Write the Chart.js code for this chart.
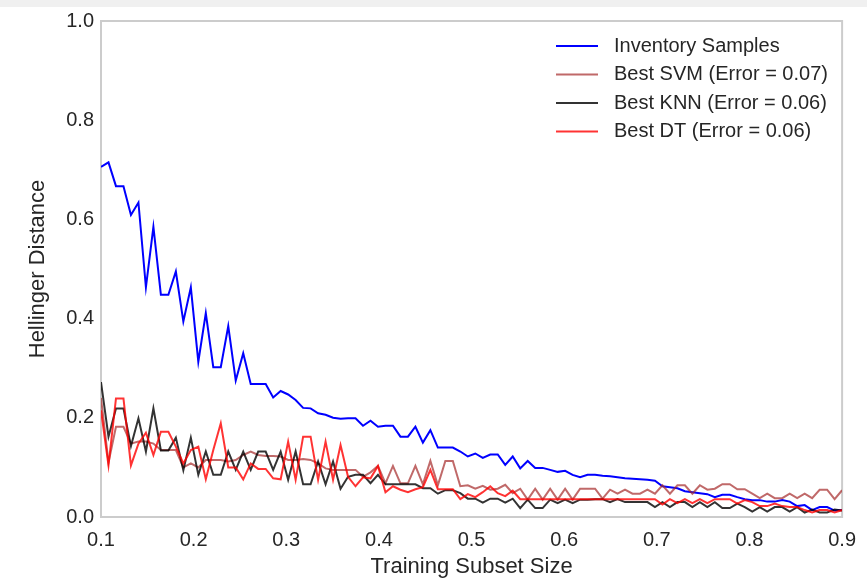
<!DOCTYPE html>
<html lang="en">
<head>
<meta charset="UTF-8">
<title>Hellinger Distance vs Training Subset Size</title>
<script src="https://cdn.jsdelivr.net/npm/chart.js"></script>
<style>
  html, body { margin: 0; padding: 0; background: #fff; }
  #wrap { position: relative; width: 867px; height: 586px; }
  #strip { position: absolute; left: 0; top: 0; width: 867px; height: 7px; background: #f0f0f0; }
</style>
</head>
<body>
<div id="wrap">
  <canvas id="curveChart" width="867" height="586"></canvas>
  <div id="strip"></div>
</div>
<script>
// 100 evenly spaced subset sizes from 0.1 to 0.9
const sizeStart = 0.1, sizeEnd = 0.9, sizeCount = 100;
const subsetSizes = Array.from({ length: sizeCount }, (_, i) => sizeStart + i * (sizeEnd - sizeStart) / (sizeCount - 1));

const xTicks = [0.1, 0.2, 0.3, 0.4, 0.5, 0.6, 0.7, 0.8, 0.9];
const yTicks = [0.0, 0.2, 0.4, 0.6, 0.8, 1.0];

const seriesLabels = ['Inventory Samples', 'Best SVM (Error = 0.07)', 'Best KNN (Error = 0.06)', 'Best DT (Error = 0.06)'];

const inventorySamples = [
  0.706,0.715,0.667,0.667,0.609,0.634,0.463,0.585,0.448,0.448,
  0.495,0.394,0.463,0.313,0.411,0.302,0.302,0.385,0.275,0.330,
  0.268,0.268,0.268,0.241,0.254,0.247,0.236,0.220,0.219,0.209,
  0.206,0.200,0.198,0.199,0.199,0.184,0.194,0.182,0.184,0.184,
  0.162,0.162,0.182,0.150,0.175,0.140,0.140,0.140,0.132,0.122,
  0.128,0.119,0.126,0.126,0.105,0.122,0.098,0.113,0.099,0.099,
  0.095,0.091,0.093,0.085,0.080,0.085,0.085,0.083,0.082,0.080,
  0.078,0.077,0.076,0.075,0.073,0.062,0.060,0.058,0.052,0.050,
  0.048,0.046,0.040,0.045,0.045,0.040,0.036,0.034,0.034,0.031,
  0.031,0.034,0.031,0.022,0.024,0.014,0.020,0.020,0.013,0.014
];
const bestSvm = [
  0.240,0.110,0.182,0.182,0.148,0.152,0.152,0.148,0.135,0.135,
  0.135,0.100,0.108,0.100,0.115,0.115,0.115,0.112,0.115,0.125,
  0.132,0.125,0.123,0.123,0.122,0.115,0.115,0.117,0.115,0.108,
  0.098,0.095,0.095,0.095,0.095,0.081,0.090,0.103,0.068,0.103,
  0.068,0.068,0.103,0.066,0.113,0.064,0.113,0.113,0.062,0.064,
  0.057,0.063,0.055,0.057,0.065,0.048,0.057,0.035,0.057,0.035,
  0.057,0.035,0.057,0.035,0.057,0.057,0.057,0.037,0.055,0.047,
  0.055,0.047,0.047,0.055,0.047,0.064,0.047,0.064,0.064,0.047,
  0.064,0.055,0.057,0.066,0.066,0.056,0.056,0.047,0.038,0.047,
  0.038,0.038,0.047,0.038,0.047,0.038,0.055,0.055,0.036,0.054
];
const bestKnn = [
  0.272,0.162,0.219,0.219,0.143,0.199,0.132,0.219,0.134,0.134,
  0.160,0.094,0.160,0.085,0.132,0.085,0.085,0.132,0.095,0.132,
  0.095,0.132,0.132,0.095,0.132,0.075,0.132,0.066,0.066,0.112,
  0.066,0.112,0.057,0.081,0.085,0.085,0.068,0.085,0.066,0.066,
  0.066,0.066,0.066,0.058,0.058,0.047,0.054,0.054,0.048,0.037,
  0.037,0.029,0.037,0.037,0.029,0.037,0.018,0.035,0.018,0.018,
  0.035,0.028,0.035,0.028,0.035,0.035,0.036,0.036,0.030,0.036,
  0.030,0.030,0.030,0.030,0.020,0.030,0.020,0.030,0.030,0.020,
  0.030,0.020,0.030,0.018,0.018,0.027,0.020,0.011,0.020,0.011,
  0.020,0.020,0.011,0.020,0.009,0.015,0.009,0.009,0.015,0.013
];
const bestDt = [
  0.215,0.104,0.239,0.239,0.104,0.148,0.170,0.125,0.172,0.172,
  0.142,0.108,0.135,0.142,0.076,0.135,0.189,0.100,0.100,0.076,
  0.108,0.097,0.097,0.078,0.076,0.152,0.075,0.162,0.162,0.075,
  0.152,0.075,0.145,0.081,0.062,0.080,0.078,0.103,0.050,0.062,
  0.055,0.050,0.056,0.060,0.095,0.056,0.056,0.056,0.036,0.046,
  0.040,0.050,0.062,0.048,0.042,0.053,0.036,0.036,0.036,0.036,
  0.036,0.036,0.036,0.036,0.036,0.036,0.036,0.036,0.036,0.036,
  0.036,0.036,0.036,0.036,0.036,0.025,0.036,0.028,0.036,0.028,
  0.036,0.028,0.036,0.036,0.036,0.027,0.034,0.030,0.022,0.022,
  0.027,0.022,0.020,0.020,0.014,0.009,0.014,0.014,0.009,0.014
];

const FONT = '"Liberation Sans", Arial, Helvetica, sans-serif';
const TEXT = '#262626';

const toPoints = vals => vals.map((v, i) => ({ x: subsetSizes[i], y: v }));

// light grey box around the plot area, like the matplotlib spines
const frame = {
  id: 'frame',
  beforeDatasetsDraw(chart) {
    const a = chart.chartArea, ctx = chart.ctx;
    ctx.save();
    ctx.strokeStyle = '#cccccc';
    ctx.lineWidth = 2;
    ctx.strokeRect(a.left, a.top, a.right - a.left, a.bottom - a.top);
    ctx.restore();
  }
};

// legend drawn inside the plot, top right, no box
const insideLegend = {
  id: 'insideLegend',
  afterDraw(chart) {
    const a = chart.chartArea, ctx = chart.ctx;
    ctx.save();
    ctx.font = '20px ' + FONT;
    ctx.textBaseline = 'middle';
    chart.data.datasets.forEach((ds, i) => {
      const y = a.top + 25 + i * 28.5;
      ctx.strokeStyle = ds.borderColor;
      ctx.lineWidth = 2;
      ctx.beginPath();
      ctx.moveTo(a.left + 455, y);
      ctx.lineTo(a.left + 497, y);
      ctx.stroke();
      ctx.fillStyle = TEXT;
      ctx.fillText(ds.label, a.left + 513, y);
    });
    ctx.restore();
  }
};

new Chart(document.getElementById('curveChart'), {
  type: 'line',
  data: {
    datasets: [
      { label: seriesLabels[0], data: toPoints(inventorySamples), borderColor: '#0000ff', order: 3 },
      { label: seriesLabels[1], data: toPoints(bestSvm), borderColor: 'rgba(165,42,42,0.7)', order: 2 },
      { label: seriesLabels[2], data: toPoints(bestKnn), borderColor: 'rgba(0,0,0,0.8)', order: 1 },
      { label: seriesLabels[3], data: toPoints(bestDt), borderColor: 'rgba(255,0,0,0.8)', order: 0 }
    ]
  },
  options: {
    responsive: false,
    animation: false,
    layout: { padding: { top: 21, right: 21, left: 0, bottom: 0 } },
    elements: {
      point: { radius: 0 },
      line: { borderWidth: 2, tension: 0, fill: false }
    },
    plugins: {
      legend: { display: false },
      tooltip: { enabled: false }
    },
    scales: {
      x: {
        type: 'linear',
        min: 0.1,
        max: 0.9,
        grid: { display: false, drawTicks: false },
        border: { display: false },
        afterBuildTicks: s => { s.ticks = xTicks.map(v => ({ value: v })); },
        afterFit: s => { s.height = 69; },
        ticks: {
          padding: 11,
          color: TEXT,
          font: { family: FONT, size: 20 },
          maxRotation: 0,
          callback: v => v.toFixed(1)
        },
        title: {
          display: true,
          text: 'Training Subset Size',
          color: TEXT,
          font: { family: FONT, size: 22 },
          padding: { top: 0, bottom: 6 }
        }
      },
      y: {
        min: 0,
        max: 1.0,
        grid: { display: false, drawTicks: false },
        border: { display: false },
        afterBuildTicks: s => { s.ticks = yTicks.map(v => ({ value: v })); },
        afterFit: s => { s.width = 101; },
        ticks: {
          padding: 7,
          color: TEXT,
          font: { family: FONT, size: 20 },
          callback: v => v.toFixed(1)
        },
        title: {
          display: true,
          text: 'Hellinger Distance',
          color: TEXT,
          font: { family: FONT, size: 22 },
          padding: { top: 25, bottom: 0 }
        }
      }
    }
  },
  plugins: [frame, insideLegend]
});
</script>
</body>
</html>
